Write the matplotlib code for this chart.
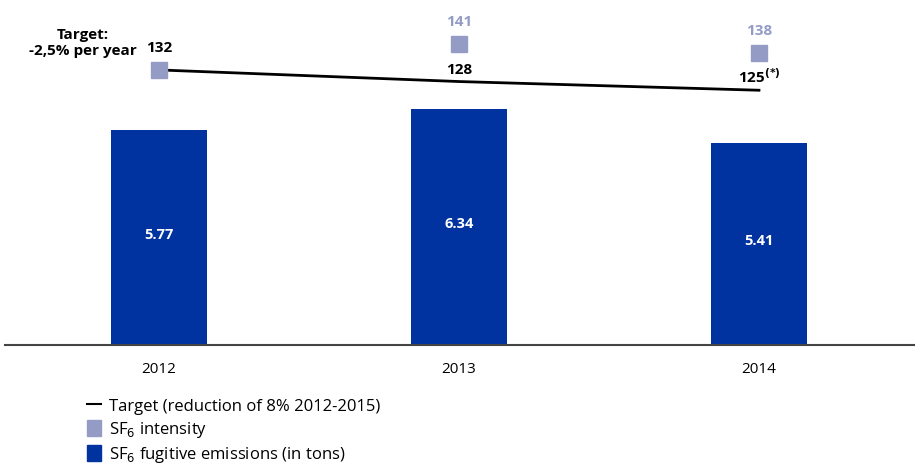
import matplotlib.pyplot as plt
from matplotlib.lines import Line2D
from matplotlib.patches import Patch
import numpy as np

years = ['2012', '2013', '2014']
emissions = [5.77, 6.34, 5.41]
intensity = [132, 141, 138]
target = [132, 128, 125]
target_labels = ['', '128', '125$^{\\mathbf{(*)}}$']

bar_color = '#0033a0'
sq_color = '#949cc6'

plt.rcParams['font.family'] = ['Open Sans', 'DejaVu Sans']

fig = plt.figure(figsize=(9.15, 4.68), dpi=100)
ax = fig.add_axes([5 / 915, 1 - 345 / 468, 910 / 915, 345 / 468])
x = np.arange(len(years))

ax.bar(x, emissions, width=0.32, color=bar_color)
for xi, v in zip(x, emissions):
    ax.text(xi, v / 2 + 0.08, f'{v:.2f}', color='white', fontsize=10.5, fontweight='bold',
            ha='center', va='center')

ax.set_xlim(-0.513, 2.52)
ax.set_ylim(0, 9.26)
ax.set_xticks(x)
ax.set_xticklabels(years, fontsize=11)
ax.tick_params(axis='x', length=0, pad=12)
ax.set_yticks([])
for s in ['top', 'right', 'left']:
    ax.spines[s].set_visible(False)
ax.spines['bottom'].set_color('#444444')
ax.spines['bottom'].set_linewidth(1.5)

ax2 = ax.twinx()
ax2.set_ylim(37.2, 156.1)
ax2.set_yticks([])
for s in ax2.spines.values():
    s.set_visible(False)

ax2.plot(x, target, color='black', lw=2)
ax2.plot(x, intensity, ls='none', marker='s', ms=11.5, color=sq_color)

ax2.text(x[0], intensity[0] + 5, str(intensity[0]), ha='center', va='bottom',
         fontsize=11, fontweight='bold', color='black')
for xi, v in zip(x[1:], intensity[1:]):
    ax2.text(xi, v + 5, str(v), ha='center', va='bottom',
             fontsize=11, fontweight='bold', color=sq_color)
for xi, lab in zip(x[1:], target_labels[1:]):
    ax2.text(xi, target[xi] + 1.5, lab, ha='center', va='bottom',
             fontsize=11, fontweight='bold', color='black')
ax2.text(-0.255, intensity[0] + 4, 'Target:\n-2,5% per year', ha='center', va='bottom',
         fontsize=11, fontweight='bold', linespacing=1.25)

handles = [
    Line2D([], [], color='black', lw=1.5),
    Patch(color=sq_color),
    Patch(color=bar_color),
]
labels = ['Target (reduction of 8% 2012-2015)', 'SF$_6$ intensity',
          'SF$_6$ fugitive emissions (in tons)']
fig.legend(handles, labels, loc='upper left', bbox_to_anchor=(80 / 915, 1 - 390 / 468),
           frameon=False, fontsize=12, handlelength=0.85, handleheight=1.15,
           handletextpad=0.5, labelspacing=0.3, borderaxespad=0)

fig.savefig('out.png', dpi=100)
